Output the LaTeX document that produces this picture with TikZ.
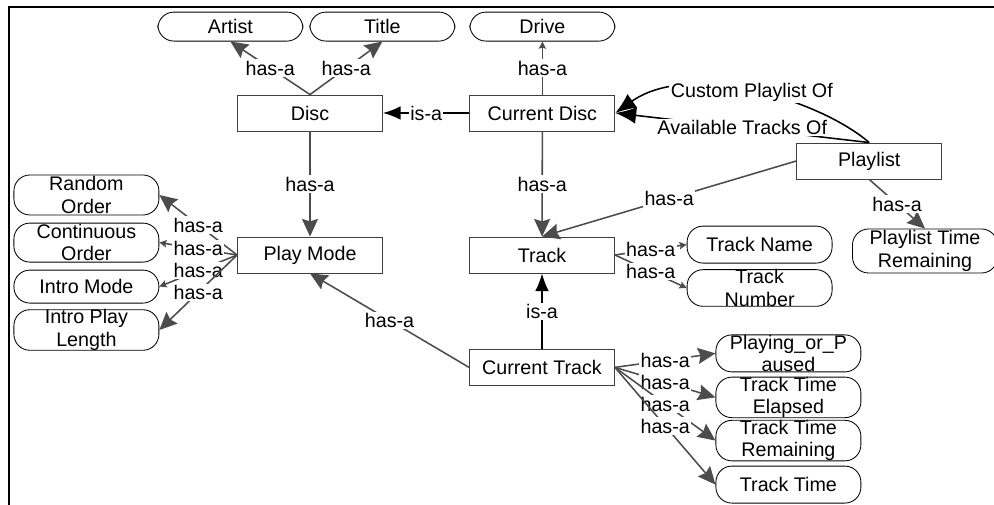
\documentclass[tikz,border=0pt]{standalone}
\usepackage{fontspec}
\setmainfont{Liberation Sans}
\usetikzlibrary{arrows.meta}

\begin{document}
\begin{tikzpicture}[
  font=\fontsize{14}{15.8}\selectfont,
  concept/.style={draw=black!75, line width=0.6pt, minimum width=3.625cm, minimum height=0.9cm, inner sep=0pt},
  attrib/.style={draw=black, line width=0.6pt, rounded corners=0.4cm, minimum width=3.625cm, inner xsep=0pt, inner ysep=0pt, align=center},
  hasa/.style={draw=black!70, line width=1.1pt, -{Stealth[length=0.44cm,width=0.4cm,inset=0.06cm]}},
  smalltip/.style={-{Stealth[length=0.18cm,width=0.18cm,inset=0.03cm]}},
  isa/.style={draw=black, line width=1.1pt, -{Latex[length=0.44cm,width=0.34cm]}},
  ofarrow/.style={draw=black, line width=1.1pt, -{Latex[length=0.52cm,width=0.42cm]}},
  lbl/.style={fill=white, inner sep=1pt}
]
  \useasboundingbox (0,0) rectangle (24.85,12.625);
  % Marco
  \draw[line width=1.4pt] (0.225,0) -- (0.225,12.45) -- (24.85,12.45);

  % Conceptos
  \node[concept] (disc) at (7.75,9.8) {Disc};
  \node[concept] (curdisc) at (13.56,9.8) {Current Disc};
  \node[concept] (playlist) at (21.73,8.6) {Playlist};
  \node[concept] (playmode) at (7.75,6.25) {Play Mode};
  \node[concept] (track) at (13.55,6.25) {Track};
  \node[concept] (curtrack) at (13.55,3.44) {Current Track};

  % Atributos
  \node[attrib, minimum height=0.725cm] (artist) at (5.76,11.96) {Artist};
  \node[attrib, minimum height=0.725cm] (title) at (9.56,11.96) {Title};
  \node[attrib, minimum height=0.725cm] (drive) at (13.56,11.96) {Drive};
  \node[attrib, minimum height=1cm] (random) at (2.16,7.75) {Random\\Order};
  \node[attrib, minimum height=0.975cm] (continuous) at (2.16,6.56) {Continuous\\Order};
  \node[attrib, minimum height=0.825cm] (intromode) at (2.16,5.46) {Intro Mode};
  \node[attrib, minimum height=1cm] (introlen) at (2.16,4.375) {Intro Play\\Length};
  \node[attrib, minimum height=0.925cm] (trackname) at (18.99,6.51) {Track Name};
  \node[attrib, minimum height=0.9cm] (tracknum) at (18.99,5.425) {Track\\Number};
  \node[attrib, minimum height=1.1cm] (plremain) at (23.125,6.35) {Playlist Time\\Remaining};
  \node[attrib, minimum height=0.925cm] (playing) at (19.71,3.79) {Playing\_or\_P\\aused};
  \node[attrib, minimum height=0.925cm] (elapsed) at (19.71,2.69) {Track Time\\Elapsed};
  \node[attrib, minimum height=0.925cm] (remaining) at (19.71,1.61) {Track Time\\Remaining};
  \node[attrib, minimum height=0.925cm] (tracktime) at (19.71,0.51) {Track Time};

  % Relaciones is-a
  \draw[isa] (curdisc) -- node[lbl] {is-a} (disc);
  \draw[isa] (curtrack) -- node[lbl] {is-a} (track);

  % Relaciones has-a
  \draw[hasa] (disc.north) -- node[lbl] {has-a} (artist.south);
  \draw[hasa] (disc.north) -- node[lbl] {has-a} (title.south);
  \draw[hasa, smalltip] (curdisc) -- node[lbl] {has-a} (drive);
  \draw[hasa] (disc) -- node[lbl] {has-a} (playmode);
  \draw[hasa] (curdisc) -- node[lbl] {has-a} (track);
  \draw[hasa] (playlist.west) -- node[lbl] {has-a} (track.north);
  \draw[hasa] (playlist.south) -- node[lbl] {has-a} (plremain.north);
  \draw[hasa] (curtrack.west) -- node[lbl] {has-a} (playmode.south);
  \draw[hasa] (playmode.west) -- node[lbl] {has-a} (random.east);
  \draw[hasa, smalltip] (playmode.west) -- node[lbl] {has-a} (continuous.east);
  \draw[hasa, smalltip] (playmode.west) -- node[lbl] {has-a} (intromode.east);
  \draw[hasa] (playmode.west) -- node[lbl] {has-a} (introlen.east);
  \draw[hasa, smalltip] (track.east) -- node[lbl] {has-a} (trackname.west);
  \draw[hasa, smalltip] (track.east) -- node[lbl] {has-a} (tracknum.west);
  \draw[hasa] (curtrack.east) -- node[lbl] {has-a} (playing.west);
  \draw[hasa] (curtrack.east) -- node[lbl] {has-a} (elapsed.west);
  \draw[hasa] (curtrack.east) -- node[lbl] {has-a} (remaining.west);
  \draw[hasa] (curtrack.east) -- node[lbl] {has-a} (tracktime.west);

  % Playlist a Current Disc
  \draw[ofarrow] (playlist.north) .. controls (20.5,10.125) and (17.25,11.125) .. node[lbl] {Custom Playlist Of} (curdisc.east);
  \draw[ofarrow] (playlist.north) -- node[lbl] {Available Tracks Of} (curdisc.east);
\end{tikzpicture}
\end{document}
